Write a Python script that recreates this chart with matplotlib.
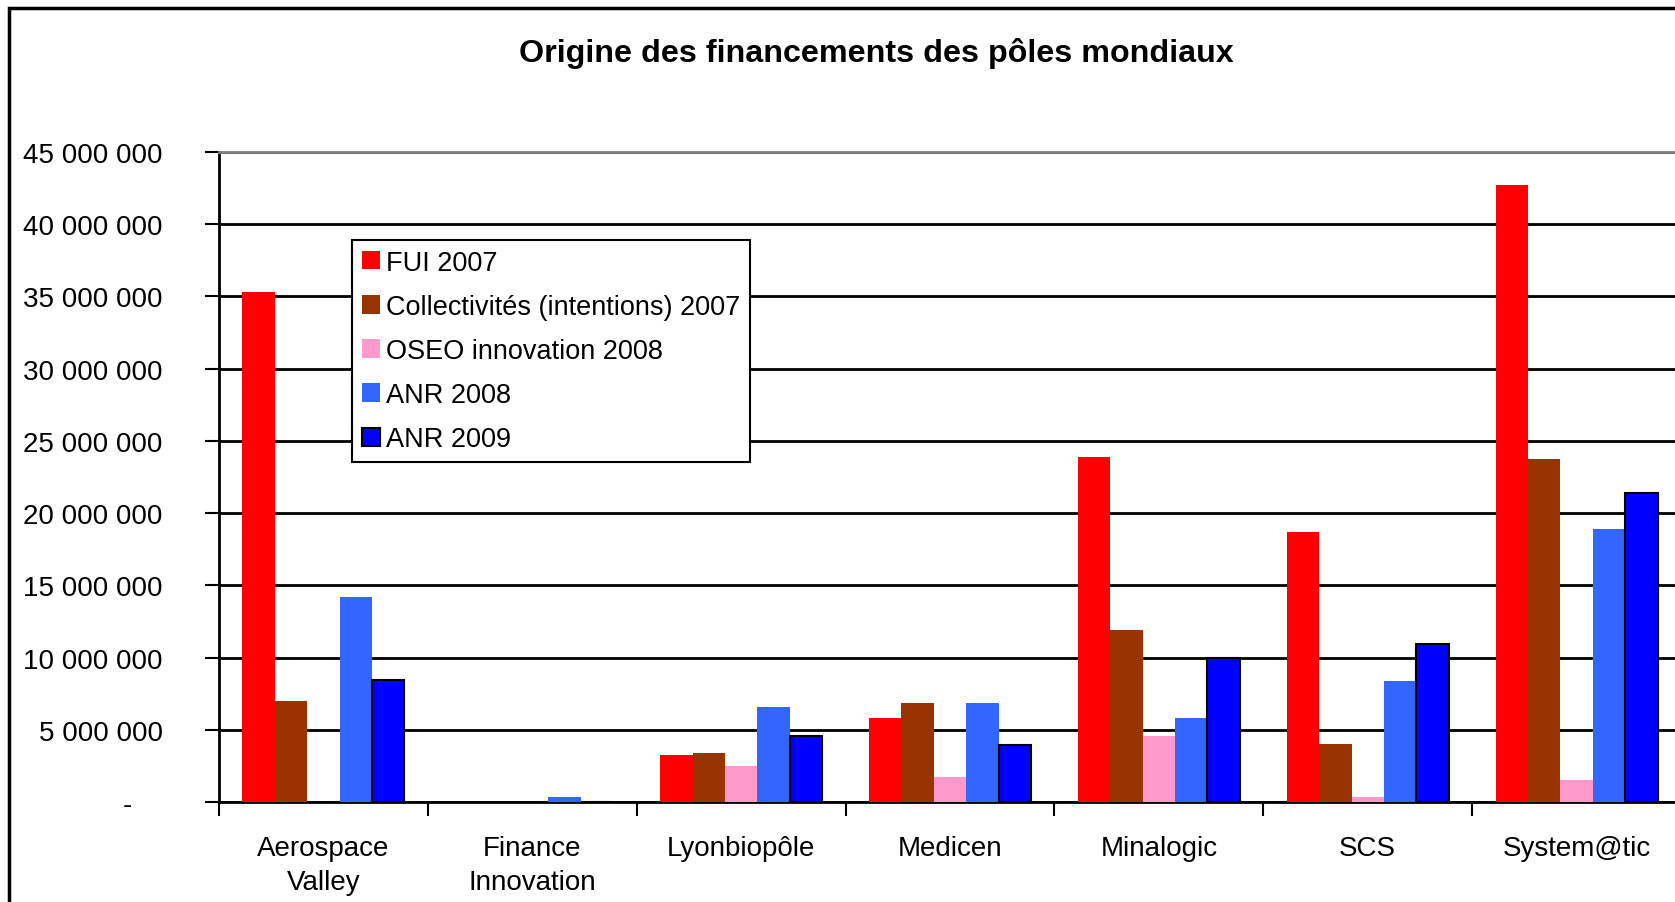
import matplotlib
matplotlib.use("Agg")
import matplotlib.pyplot as plt
import numpy as np
from matplotlib.patches import Rectangle

plt.rcParams['font.family'] = ['Liberation Sans', 'DejaVu Sans']

# data
poles = ['Aerospace\nValley', 'Finance\nInnovation', 'Lyonbiopôle', 'Medicen',
         'Minalogic', 'SCS', 'System@tic']
series_names = ['FUI 2007', 'Collectivités (intentions) 2007', 'OSEO innovation 2008',
                'ANR 2008', 'ANR 2009']
fui_2007 = [35.3e6, 0, 3.27e6, 5.83e6, 23.88e6, 18.69e6, 42.69e6]
collectivites_2007 = [7.0e6, 0, 3.41e6, 6.87e6, 11.92e6, 4.03e6, 23.74e6]
oseo_2008 = [0, 0, 2.51e6, 1.75e6, 4.59e6, 0.37e6, 1.54e6]
anr_2008 = [14.2e6, 0.35e6, 6.59e6, 6.87e6, 5.83e6, 8.39e6, 18.9e6]
anr_2009 = [8.48e6, 0, 4.54e6, 3.92e6, 9.96e6, 10.93e6, 21.37e6]
yticks = [0, 5e6, 10e6, 15e6, 20e6, 25e6, 30e6, 35e6, 40e6, 45e6]

colors = ['#FF0000', '#993300', '#FF99CC', '#3366FF', '#0000FF']
all_series = [fui_2007, collectivites_2007, oseo_2008, anr_2008, anr_2009]

fig = plt.figure(figsize=(16.75, 9.03), dpi=100)
ax = fig.add_axes([219 / 1675, 100 / 903, 1462 / 1675, 650 / 903])

x = np.arange(len(poles)) + 0.5
w = 0.155
for k, (vals, name, c) in enumerate(zip(all_series, series_names, colors)):
    edge = 'black' if k == 4 else 'none'
    ax.bar(x + (k - 2) * w, vals, width=w, color=c, edgecolor=edge,
           linewidth=1.5, label=name, zorder=3)

ax.set_xlim(0, len(poles))
ax.set_ylim(0, 45e6)

# y axis: grid lines + labels with spaces as thousands separator
ax.set_yticks(yticks)
ax.set_yticklabels(['-' if v == 0 else f'{int(v):,}'.replace(',', ' ') for v in yticks])
ax.yaxis.grid(True, color='black', linewidth=2, zorder=0)
ax.tick_params(axis='y', direction='out', length=10, width=1.5, pad=30.5, labelsize=20)
ax.yaxis.get_major_ticks()[0].set_pad(53)

# x axis: separators at boundaries, labels at group centres
ax.set_xticks(np.arange(len(poles) + 1))
ax.set_xticklabels([])
ax.set_xticks(x, minor=True)
ax.set_xticklabels(poles, minor=True, fontsize=20, linespacing=1.4)
ax.tick_params(axis='x', which='major', direction='out', length=10, width=1.5)
ax.tick_params(axis='x', which='minor', length=0, pad=24)

for s in ['left', 'bottom']:
    ax.spines[s].set_color('black')
    ax.spines[s].set_linewidth(2)
ax.spines['top'].set_color('#808080')
ax.spines['top'].set_linewidth(2)
ax.spines['right'].set_visible(False)
ax.set_axisbelow(True)

leg = ax.legend(loc='upper left', bbox_to_anchor=(352 / 1675, 1 - 241 / 903),
                bbox_transform=fig.transFigure, fontsize=19.5, frameon=True,
                fancybox=False, edgecolor='black', framealpha=1,
                handlelength=0.67, handleheight=0.67, handletextpad=0.22,
                labelspacing=0.67, borderpad=0.36, borderaxespad=0)
leg.get_frame().set_linewidth(1.5)

fig.text(876 / 1675, 1 - 62 / 903, 'Origine des financements des pôles mondiaux',
         ha='center', va='baseline', fontsize=23.2, fontweight='bold')

# outer chart border (only top and left are inside the picture)
fig.add_artist(Rectangle((8.5 / 1675, -0.1), 1.2, 1.1 - 8.5 / 903, fill=False,
                         edgecolor='black', linewidth=2.5, transform=fig.transFigure))

fig.savefig('out.png', dpi=100)
